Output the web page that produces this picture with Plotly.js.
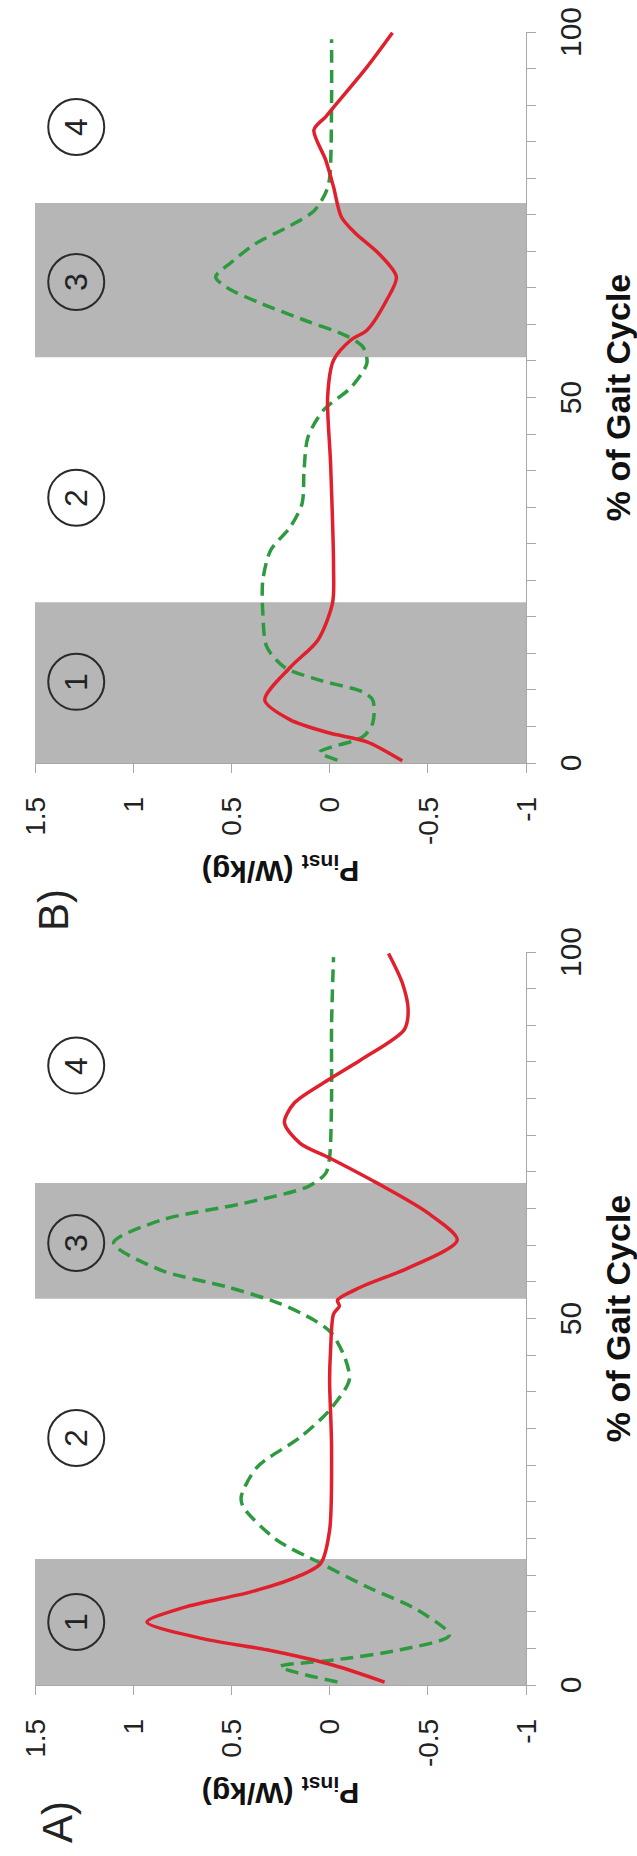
<!DOCTYPE html>
<html>
<head>
<meta charset="utf-8">
<script src="https://cdn.plot.ly/plotly-3.0.1.min.js"></script>
<style>
  html, body { margin: 0; padding: 0; background: #fff; }
  #wrap { position: relative; width: 637px; height: 1856px; overflow: hidden; background: #fff; }
  #plot { position: absolute; left: 0; top: 0; width: 1856px; height: 637px;
          transform-origin: 0 0; transform: translate(0px, 1856px) rotate(-90deg); }
</style>
</head>
<body>
<div id="wrap"><div id="plot"></div></div>
<script>
// ---------- data ----------
// Panel A
const redA_x = [0.4, 2.7, 4.8, 6.4, 8.6, 10.6, 12.7, 14.6, 16.6, 21.1, 32.5, 41.6, 45.7, 50.6, 51.7, 52.5, 54.3, 57.0, 60.7, 64.4, 68.5, 71.9, 73.9, 76.7, 79.4, 82.5, 85.3, 89.4, 92.1, 95.8, 99.8];
const redA_y = [-0.28, -0.02, 0.32, 0.66, 0.93, 0.74, 0.40, 0.18, 0.045, 0.0, -0.01, 0.0, -0.005, -0.02, -0.05, -0.04, -0.16, -0.41, -0.65, -0.50, -0.24, 0.0, 0.15, 0.23, 0.18, 0.01, -0.16, -0.38, -0.40, -0.37, -0.30];
const greenA_x = [0.4, 2.5, 3.4, 4.8, 6.8, 10.2, 13.4, 16.6, 19.8, 24.3, 25.7, 29.7, 33.8, 37.5, 41.6, 44.5, 48.0, 49.8, 52.1, 54.3, 56.6, 60.3, 63.4, 65.7, 68.0, 69.8, 72.0, 80.0, 90.0, 99.3];
const greenA_y = [-0.04, 0.25, -0.02, -0.36, -0.61, -0.45, -0.19, 0.045, 0.27, 0.44, 0.45, 0.37, 0.15, 0.0, -0.10, -0.08, -0.01, 0.08, 0.26, 0.52, 0.86, 1.10, 0.86, 0.44, 0.11, 0.02, 0.0, -0.01, -0.01, -0.02];
// Panel B
const redB_x = [0.3, 2.9, 4.1, 5.9, 8.6, 13.1, 16.8, 21.9, 26.9, 41.0, 50.1, 55.1, 57.9, 59.2, 63.3, 66.5, 69.7, 72.5, 74.7, 78.8, 82.5, 86.6, 88.4, 89.7, 95.2, 99.9];
const redB_y = [-0.37, -0.19, 0.0, 0.20, 0.33, 0.20, 0.06, -0.015, -0.02, -0.005, 0.01, -0.02, -0.11, -0.19, -0.29, -0.34, -0.25, -0.13, -0.06, -0.02, 0.02, 0.08, 0.02, -0.02, -0.19, -0.32];
const greenB_x = [0.4, 1.5, 3.6, 5.5, 8.6, 9.7, 11.4, 13.1, 15.9, 20.5, 25.0, 29.1, 32.3, 35.5, 40.1, 44.6, 48.3, 51.4, 54.7, 56.9, 58.5, 60.5, 63.0, 65.0, 66.5, 68.5, 71.0, 73.5, 75.5, 78.0, 80.0, 90.0, 99.0];
const greenB_y = [-0.04, 0.05, -0.17, -0.22, -0.22, -0.17, 0.06, 0.23, 0.32, 0.34, 0.34, 0.30, 0.20, 0.14, 0.13, 0.11, 0.03, -0.11, -0.19, -0.17, -0.08, 0.12, 0.36, 0.52, 0.58, 0.50, 0.38, 0.20, 0.08, 0.02, 0.0, -0.01, -0.01];
// shaded phases (% of gait cycle)
const phasesA = [[0, 17.2], [52.7, 68.5]];
const phasesB = [[0, 22.0], [55.5, 76.6]];
// phase numbers
const phaseLabels = ['1', '2', '3', '4'];
const phaseLabelXA = [8.6, 33.7, 60.3, 84.5];
const phaseLabelXB = [11.1, 36.3, 65.8, 87.0];
// ticks
const xTickVals = [0, 50, 100];
const yTickVals = [-1, -0.5, 0, 0.5, 1, 1.5];
const yTickText = ['-1', '-0.5', '0', '0.5', '1', '1.5'];
const panelLetters = ['A)', 'B)'];
const xTitle = '<b>% of Gait Cycle</b>';
const yTitle = '<b>P<sub>inst</sub> (W/kg)</b>';

// ---------- styles ----------
const FONT = 'Liberation Sans, Arial, sans-serif';
const RED = '#e0202c', GREEN = '#2e9a40', BAND = '#b6b6b6', AX = '#a8a8a8';
const W = 1856, H = 637;
const labelY = 1.29;

const traces = [
  {x: greenA_x, y: greenA_y, xaxis: 'x', yaxis: 'y', mode: 'lines',
   line: {color: GREEN, width: 3.5, dash: '13px,7px', shape: 'spline', smoothing: 0.8}},
  {x: redA_x, y: redA_y, xaxis: 'x', yaxis: 'y', mode: 'lines',
   line: {color: RED, width: 3.5, shape: 'spline', smoothing: 0.8}},
  {x: greenB_x, y: greenB_y, xaxis: 'x2', yaxis: 'y2', mode: 'lines',
   line: {color: GREEN, width: 3.5, dash: '13px,7px', shape: 'spline', smoothing: 0.8}},
  {x: redB_x, y: redB_y, xaxis: 'x2', yaxis: 'y2', mode: 'lines',
   line: {color: RED, width: 3.5, shape: 'spline', smoothing: 0.8}}
];

const shapes = [];
const annotations = [];
function addPanel(phases, labelX, xr, yr) {
  phases.forEach(p => shapes.push({type: 'rect', xref: xr, yref: yr + ' domain', x0: p[0], x1: p[1], y0: 0, y1: 1,
    fillcolor: BAND, line: {width: 0}, layer: 'below'}));
  labelX.forEach((lx, i) => {
    shapes.push({type: 'circle', xref: xr, yref: yr, xsizemode: 'pixel', ysizemode: 'pixel',
      xanchor: lx, yanchor: labelY, x0: -28, x1: 28, y0: -28, y1: 28,
      line: {color: '#2a2a2a', width: 2}, fillcolor: 'rgba(0,0,0,0)', layer: 'above'});
    annotations.push({xref: xr, yref: yr, x: lx, y: labelY, text: phaseLabels[i], showarrow: false,
      font: {family: FONT, size: 32, color: '#222'}, xanchor: 'center', yanchor: 'middle'});
  });
}
addPanel(phasesA, phaseLabelXA, 'x', 'y');
addPanel(phasesB, phaseLabelXB, 'x2', 'y2');

annotations.push({xref: 'paper', yref: 'paper', x: 34 / W, y: 0.954, text: panelLetters[0], showarrow: false,
  font: {family: FONT, size: 42, color: '#222'}, xanchor: 'center', yanchor: 'middle'});
annotations.push({xref: 'paper', yref: 'paper', x: 946 / W, y: 0.962, text: panelLetters[1], showarrow: false,
  font: {family: FONT, size: 42, color: '#222'}, xanchor: 'center', yanchor: 'middle'});

function xAxis(domain, anchor) {
  return {domain: domain, anchor: anchor, range: [0, 100], tickmode: 'array', tickvals: xTickVals,
    ticks: 'outside', ticklen: 9, tickwidth: 1, tickcolor: AX, showline: true, linecolor: AX, linewidth: 1.2,
    showgrid: false, zeroline: false, ticklabelstandoff: 9,
    minor: {tickmode: 'linear', tick0: 0, dtick: 5, ticks: 'outside', ticklen: 9, tickwidth: 1, tickcolor: AX},
    tickfont: {family: FONT, size: 30, color: '#222'},
    title: {text: xTitle, font: {family: FONT, size: 34, color: '#111'}, standoff: 20}};
}
function yAxis(anchor, standoff) {
  return {domain: [0, 1], anchor: anchor, range: [-1, 1.5], tickmode: 'array', tickvals: yTickVals, ticktext: yTickText,
    ticks: 'outside', ticklen: 9, tickwidth: 1, tickcolor: AX, showline: true, linecolor: AX, linewidth: 1.2,
    showgrid: false, zeroline: false, ticklabelstandoff: 18,
    tickfont: {family: FONT, size: 28, color: '#222'},
    title: {text: yTitle, font: {family: FONT, size: 30, color: '#111'}, standoff: standoff}};
}

const layout = {
  width: W, height: H, autosize: false,
  margin: {l: 0, r: 0, t: 34.5, b: 111, pad: 0},
  paper_bgcolor: '#fff', plot_bgcolor: '#fff', showlegend: false,
  xaxis: xAxis([171 / W, 904 / W], 'y'),
  yaxis: yAxis('x', 6),
  xaxis2: xAxis([1093 / W, 1824 / W], 'y2'),
  yaxis2: yAxis('x2', 6),
  shapes: shapes, annotations: annotations
};

Plotly.newPlot('plot', traces, layout, {staticPlot: true, displayModeBar: false, responsive: false});
</script>
</body>
</html>
